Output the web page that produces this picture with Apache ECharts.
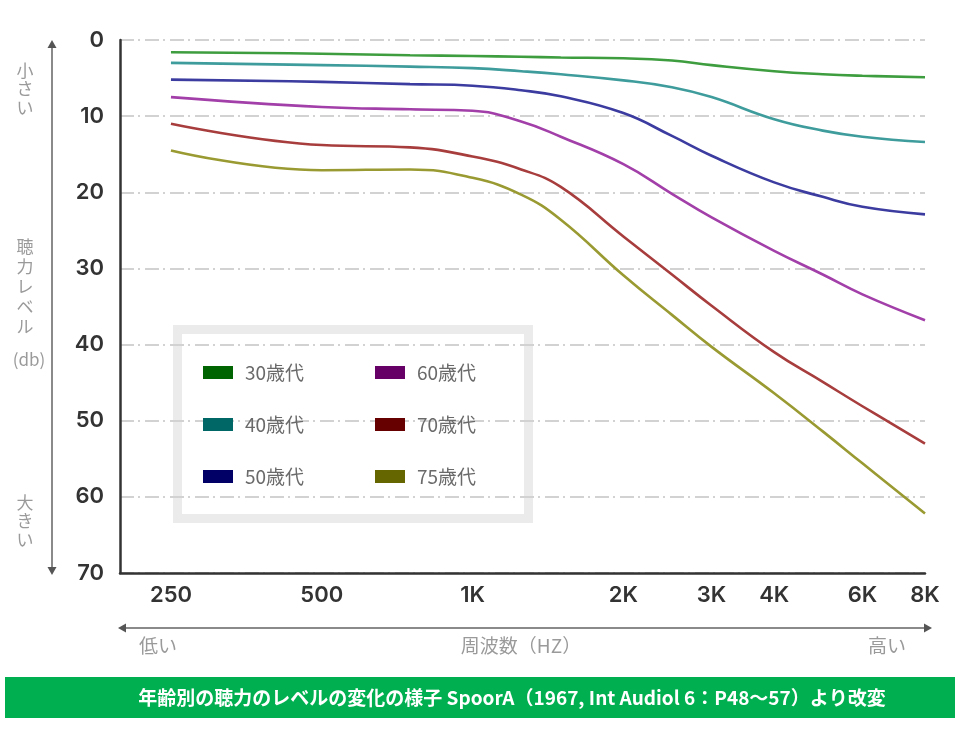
<!DOCTYPE html>
<html>
<head>
<meta charset="utf-8">
<script src="https://cdn.jsdelivr.net/npm/echarts@6/dist/echarts.min.js"></script>
<style>
html,body{margin:0;padding:0;background:#fff;}
#chart{width:960px;height:740px;}
</style>
</head>
<body>
<div id="chart"></div>
<script>
// ---- data ----
const freqs = [250, 500, 750, 1000, 1250, 1500, 2000, 2500, 3000, 4000, 5000, 6000, 8000];
const seriesNames = ['30歳代', '40歳代', '50歳代', '60歳代', '70歳代', '75歳代'];
const age30 = [1.6, 1.8, 2.0, 2.1, 2.2, 2.3, 2.4, 2.7, 3.3, 4.1, 4.5, 4.7, 4.9];
const age40 = [3.0, 3.3, 3.5, 3.7, 4.1, 4.5, 5.3, 6.2, 7.5, 10.4, 11.9, 12.7, 13.4];
const age50 = [5.2, 5.5, 5.8, 6.0, 6.6, 7.4, 9.6, 12.6, 15.2, 18.7, 20.6, 21.9, 22.9];
const age60 = [7.5, 8.8, 9.1, 9.3, 10.7, 12.7, 16.3, 20.2, 23.3, 27.7, 30.8, 33.4, 36.8];
const age70 = [11.0, 13.8, 14.1, 15.3, 17.0, 19.3, 25.8, 30.8, 34.9, 41.0, 44.9, 48.1, 53.0];
const age75 = [14.5, 17.1, 17.0, 18.1, 20.3, 23.6, 30.9, 36.1, 40.3, 46.4, 51.4, 55.6, 62.2];
const xTickValues = [250, 500, 1000, 2000, 3000, 4000, 6000, 8000];
const xTickLabels = ['250', '500', '1K', '2K', '3K', '4K', '6K', '8K'];
const yTickLabels = ['0', '10', '20', '30', '40', '50', '60', '70'];

const allValues = [age30, age40, age50, age60, age70, age75];
const lineColors = ['#3d9d3f', '#3f9c9c', '#3b3ba0', '#a23fa8', '#a83d3d', '#9a9a32'];
const legendColors = ['#006400', '#006666', '#000066', '#660066', '#660000', '#666600'];

const chart = echarts.init(document.getElementById('chart'));

const series = seriesNames.map((name, i) => ({
  name: name,
  type: 'line',
  smooth: 0.45,
  symbol: 'none',
  data: freqs.map((f, j) => [f, allValues[i][j]]),
  lineStyle: { color: lineColors[i], width: 2.6 },
  itemStyle: { color: lineColors[i] },
  emphasis: { disabled: true }
}));

function legendItems(idx) {
  return idx.map(i => ({ name: seriesNames[i], itemStyle: { color: legendColors[i] } }));
}

const legendCommon = {
  orient: 'vertical',
  padding: 0,
  itemWidth: 30,
  itemHeight: 13,
  itemGap: 31,
  icon: 'rect',
  textStyle: { fontSize: 19, color: '#6a6a6a', fontFamily: 'Noto Sans CJK JP', padding: [0, 0, 0, 7], lineHeight: 21 }
};

const grayText = '#9a9a9a';
const arrowColor = '#8a8a8a';
const cjk = 'Noto Sans CJK JP';

const option = {
  animation: false,
  backgroundColor: '#fff',
  grid: { left: 120, top: 40, right: 35, bottom: 167 },
  xAxis: {
    type: 'log',
    logBase: 2,
    min: 197.8,
    max: 8000,
    axisLine: { show: true, onZero: false, lineStyle: { color: '#333', width: 2.5 } },
    axisTick: { show: false },
    splitLine: { show: false },
    minorSplitLine: { show: false },
    axisLabel: {
      customValues: xTickValues,
      formatter: v => xTickLabels[xTickValues.indexOf(Math.round(v))] || '',
      fontSize: 22,
      fontWeight: 600,
      color: '#333',
      fontFamily: 'Inter',
      margin: 11
    }
  },
  yAxis: {
    type: 'value',
    inverse: true,
    min: 0,
    max: 70,
    interval: 10,
    axisLine: { show: true, onZero: false, lineStyle: { color: '#333', width: 2.5 } },
    axisTick: { show: false },
    axisLabel: {
      formatter: v => yTickLabels[Math.round(v / 10)],
      fontSize: 22,
      fontWeight: 600,
      color: '#333',
      fontFamily: 'Inter',
      margin: 16
    },
    splitLine: {
      show: true,
      lineStyle: { color: '#d2d2d2', width: 2, type: [14, 4, 2, 5] }
    }
  },
  legend: [
    Object.assign({}, legendCommon, { left: 203, top: 362, data: legendItems([0, 1, 2]) }),
    Object.assign({}, legendCommon, { left: 375, top: 362, data: legendItems([3, 4, 5]) })
  ],
  graphic: [
    // legend frame
    { type: 'rect', z: -1, shape: { x: 177.5, y: 329.5, width: 351, height: 189 },
      style: { fill: '#fff', stroke: '#ebebeb', lineWidth: 9 } },
    // vertical arrow
    { type: 'line', shape: { x1: 52, y1: 46, x2: 52, y2: 569 }, style: { stroke: arrowColor, lineWidth: 2 } },
    { type: 'polygon', shape: { points: [[52, 40], [47.5, 48], [56.5, 48]] }, style: { fill: '#555' } },
    { type: 'polygon', shape: { points: [[52, 575], [47.5, 567], [56.5, 567]] }, style: { fill: '#555' } },
    // vertical labels
    { type: 'text', style: { x: 25, y: 61, text: '小\nさ\nい', fontSize: 17, lineHeight: 18.5, fill: grayText, align: 'center', fontFamily: cjk } },
    { type: 'text', style: { x: 25, y: 237, text: '聴\n力\nレ\nベ\nル', fontSize: 17, lineHeight: 20, fill: grayText, align: 'center', fontFamily: cjk } },
    { type: 'text', style: { x: 29, y: 351, text: '(db)', fontSize: 17, fill: grayText, align: 'center', fontFamily: cjk } },
    { type: 'text', style: { x: 25, y: 493, text: '大\nき\nい', fontSize: 17, lineHeight: 18.5, fill: grayText, align: 'center', fontFamily: cjk } },
    // horizontal arrow
    { type: 'line', shape: { x1: 124, y1: 628, x2: 926, y2: 628 }, style: { stroke: arrowColor, lineWidth: 2 } },
    { type: 'polygon', shape: { points: [[118, 628], [126, 623.5], [126, 632.5]] }, style: { fill: '#555' } },
    { type: 'polygon', shape: { points: [[932, 628], [924, 623.5], [924, 632.5]] }, style: { fill: '#555' } },
    { type: 'text', style: { x: 139, y: 636, text: '低い', fontSize: 19, fill: grayText, fontFamily: cjk } },
    { type: 'text', style: { x: 521, y: 636, text: '周波数（HZ）', fontSize: 19, fill: grayText, align: 'center', fontFamily: cjk } },
    { type: 'text', style: { x: 868, y: 636, text: '高い', fontSize: 19, fill: grayText, fontFamily: cjk } },
    // banner
    { type: 'rect', shape: { x: 5, y: 677, width: 950, height: 41 }, style: { fill: '#00b050' } },
    { type: 'text', style: { x: 512, y: 697.5, text: '年齢別の聴力のレベルの変化の様子 SpoorA（1967, Int Audiol 6：P48～57）より改変',
      fontSize: 19, fontWeight: 'bold', fill: '#fff', align: 'center', verticalAlign: 'middle', fontFamily: cjk } }
  ],
  series: series
};

chart.setOption(option);
</script>
</body>
</html>
